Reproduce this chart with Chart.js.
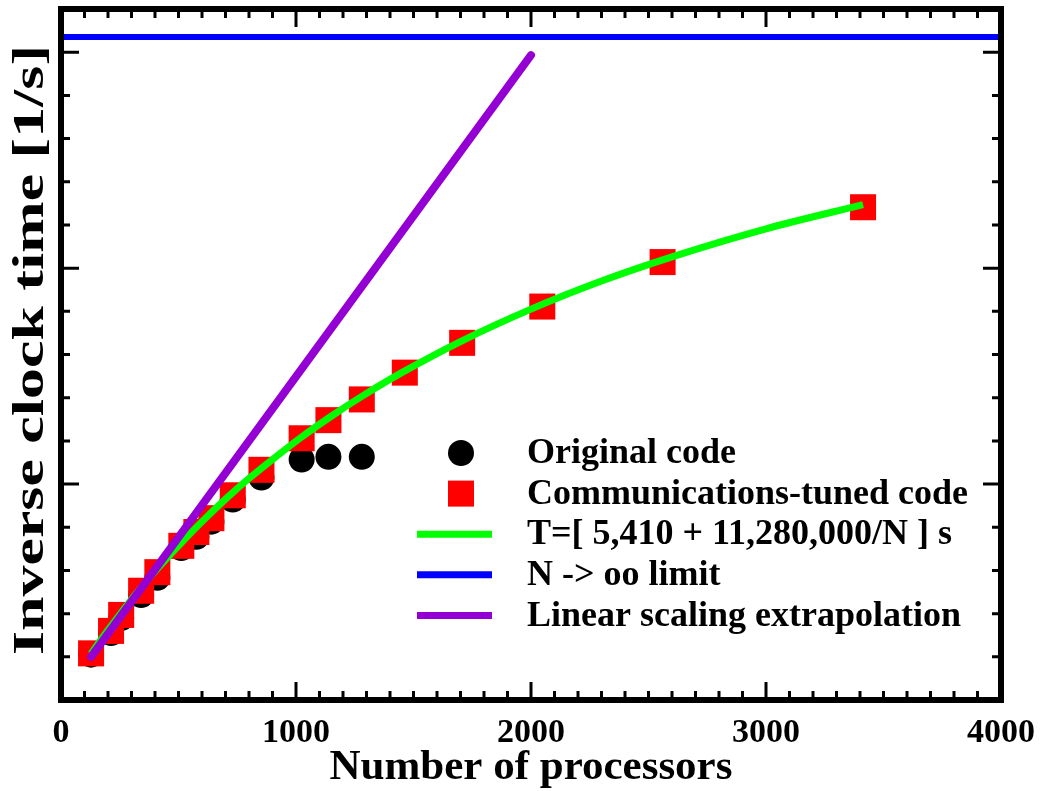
<!DOCTYPE html>
<html>
<head>
<meta charset="utf-8">
<title>Inverse clock time vs number of processors</title>
<script src="https://cdn.jsdelivr.net/npm/chart.js@4.4.0/dist/chart.umd.min.js"></script>
<style>
  html, body { margin: 0; padding: 0; background: #fff; }
  #wrap { width: 1042px; height: 791px; }
</style>
</head>
<body>
<div id="wrap"><canvas id="scalingChart"></canvas></div>
<script>
// Rates are inverse wall-clock time, stored in units of 1e-5 1/s
const tunedCounts = [128, 213, 256, 341, 410, 512, 576, 640, 731, 853, 1024, 1138, 1280, 1463, 1707, 2048, 2560, 3413];
const tunedRate   = [1.08, 1.60, 1.97, 2.53, 2.96, 3.57, 3.89, 4.21, 4.74, 5.33, 6.06, 6.48, 6.96, 7.58, 8.27, 9.11, 10.14, 11.41];

const origCounts = [128, 213, 256, 341, 410, 512, 576, 640, 731, 853, 1024, 1138, 1280];
const origRate   = [1.05, 1.55, 1.90, 2.43, 2.83, 3.52, 3.78, 4.13, 4.64, 5.15, 5.57, 5.63, 5.63];

// fitted model curve
const fitCounts = [128, 160, 192, 213, 256, 300, 341, 400, 450, 512, 600, 700, 800, 900, 1024, 1150, 1280, 1450, 1700, 2000, 2300, 2600, 3000, 3413];
const fitRate   = [1.07, 1.32, 1.56, 1.71, 2.02, 2.33, 2.60, 2.98, 3.28, 3.64, 4.13, 4.65, 5.13, 5.57, 6.09, 6.57, 7.03, 7.58, 8.30, 9.05, 9.70, 10.26, 10.91, 11.47];

const limitCounts = [0, 4000];
const limitRate   = [15.35, 15.35];

const linearCounts = [128, 2000];
const linearRate   = [1.0, 14.93];

const xTicks = [0, 1000, 2000, 3000, 4000];
const xTickLabels = ['0', '1000', '2000', '3000', '4000'];

const SERIF = '"Liberation Serif", "Times New Roman", serif';
const Y_TITLE = 'Inverse clock time [1/s]';

const toPoints = (xs, ys) => xs.map((x, i) => ({ x: x, y: ys[i] }));

// Boxed frame with inward ticks on all four sides
const frameTicks = {
    id: 'frameTicks',
    afterDatasetsDraw(chart) {
        const { ctx, chartArea: a, scales: { x, y } } = chart;
        ctx.save();
        ctx.strokeStyle = '#000';
        ctx.lineWidth = 3;
        ctx.beginPath();
        for (let v = 0; v <= 4000; v += 100) {
            const px = x.getPixelForValue(v);
            const len = v % 1000 === 0 ? 18 : 9;
            ctx.moveTo(px, a.bottom);
            ctx.lineTo(px, a.bottom - len);
            ctx.moveTo(px, a.top);
            ctx.lineTo(px, a.top + len);
        }
        for (let v = 0; v <= 16; v++) {
            const py = y.getPixelForValue(v);
            const len = v % 5 === 0 ? 18 : 9;
            ctx.moveTo(a.left, py);
            ctx.lineTo(a.left + len, py);
            ctx.moveTo(a.right, py);
            ctx.lineTo(a.right - len, py);
        }
        ctx.stroke();
        ctx.lineWidth = 6;
        ctx.strokeRect(a.left, a.top, a.right - a.left, a.bottom - a.top);
        ctx.restore();
    }
};

// Vertical axis title, drawn wide along its reading direction
const yTitle = {
    id: 'yTitle',
    afterDraw(chart) {
        const { ctx, chartArea: a } = chart;
        ctx.save();
        ctx.font = 'bold 45px ' + SERIF;
        const stretch = 610 / ctx.measureText(Y_TITLE).width;
        ctx.translate(31, a.top + 341);
        ctx.rotate(-Math.PI / 2);
        ctx.scale(stretch, 1);
        ctx.fillStyle = '#000';
        ctx.textAlign = 'center';
        ctx.textBaseline = 'middle';
        ctx.fillText(Y_TITLE, 0, 0);
        ctx.restore();
    }
};

// Legend drawn inside the plot, lower right
const innerLegend = {
    id: 'innerLegend',
    afterDraw(chart) {
        const { ctx, chartArea: a } = chart;
        const symX = a.left + 400;
        const textX = a.left + 466;
        let rowY = a.top + 444;
        const rowGap = 40.6;
        ctx.save();
        ctx.font = 'bold 36px ' + SERIF;
        ctx.textBaseline = 'middle';
        ctx.textAlign = 'left';
        chart.data.datasets.forEach(ds => {
            if (!ds.showLine) {
                ctx.fillStyle = ds.backgroundColor;
                Chart.helpers.drawPoint(ctx, {
                    pointStyle: ds.pointStyle,
                    radius: ds.pointRadius,
                    rotation: 0,
                    borderWidth: 0
                }, symX, rowY);
            } else {
                ctx.strokeStyle = ds.borderColor;
                ctx.lineWidth = 7;
                ctx.beginPath();
                ctx.moveTo(symX - 44, rowY);
                ctx.lineTo(symX + 31, rowY);
                ctx.stroke();
            }
            ctx.fillStyle = '#000';
            ctx.fillText(ds.label, textX, rowY + 1);
            rowY += rowGap;
        });
        ctx.restore();
    }
};

document.addEventListener('DOMContentLoaded', () => {
    const ctx = document.getElementById('scalingChart');

    const datasets = [
        {
            label: 'Original code',
            data: toPoints(origCounts, origRate),
            showLine: false,
            pointStyle: 'circle',
            pointRadius: 13,
            backgroundColor: '#000000',
            borderWidth: 0,
            order: 5
        },
        {
            label: 'Communications-tuned code',
            data: toPoints(tunedCounts, tunedRate),
            showLine: false,
            pointStyle: 'rect',
            pointRadius: 18.4,
            backgroundColor: '#ff0000',
            borderWidth: 0,
            order: 4
        },
        {
            label: 'T=[ 5,410 + 11,280,000/N ] s',
            data: toPoints(fitCounts, fitRate),
            showLine: true,
            borderColor: '#00ff00',
            borderWidth: 7,
            pointRadius: 0,
            cubicInterpolationMode: 'monotone',
            order: 3
        },
        {
            label: 'N -> oo limit',
            data: toPoints(limitCounts, limitRate),
            showLine: true,
            borderColor: '#0000ff',
            borderWidth: 6,
            pointRadius: 0,
            order: 2
        },
        {
            label: 'Linear scaling extrapolation',
            data: toPoints(linearCounts, linearRate),
            showLine: true,
            borderColor: '#9400d3',
            borderWidth: 8,
            borderCapStyle: 'round',
            pointRadius: 0,
            order: 1
        }
    ];

    new Chart(ctx, {
        type: 'scatter',
        data: { datasets: datasets },
        options: {
            responsive: true,
            maintainAspectRatio: false,
            animation: false,
            layout: { autoPadding: false, padding: { top: 9, right: 41, left: 0, bottom: 0 } },
            plugins: {
                legend: { display: false },
                tooltip: { enabled: false }
            },
            elements: { point: { hoverRadius: 0 } },
            scales: {
                x: {
                    type: 'linear',
                    min: 0,
                    max: 4000,
                    afterBuildTicks: (scale) => {
                        scale.ticks = xTicks.map(v => ({ value: v }));
                    },
                    afterFit: (scale) => {
                        scale.height = 91;
                        // let the end labels overhang the plot edges
                        scale.paddingLeft = 0;
                        scale.paddingRight = 0;
                    },
                    ticks: {
                        color: '#000',
                        padding: 13,
                        maxRotation: 0,
                        callback: (value) => xTickLabels[xTicks.indexOf(value)],
                        font: { family: SERIF, size: 34, weight: 'bold' }
                    },
                    grid: { display: false, drawTicks: false },
                    border: { display: false },
                    title: {
                        display: true,
                        text: 'Number of processors',
                        color: '#000',
                        padding: { top: 0, bottom: -3 },
                        font: { family: SERIF, size: 43, weight: 'bold' }
                    }
                },
                y: {
                    type: 'linear',
                    min: 0,
                    max: 16,
                    afterFit: (scale) => { scale.width = 61; },
                    ticks: { display: false },
                    grid: { display: false, drawTicks: false },
                    border: { display: false },
                    title: { display: false }
                }
            }
        },
        plugins: [frameTicks, yTitle, innerLegend]
    });
});
</script>
</body>
</html>
